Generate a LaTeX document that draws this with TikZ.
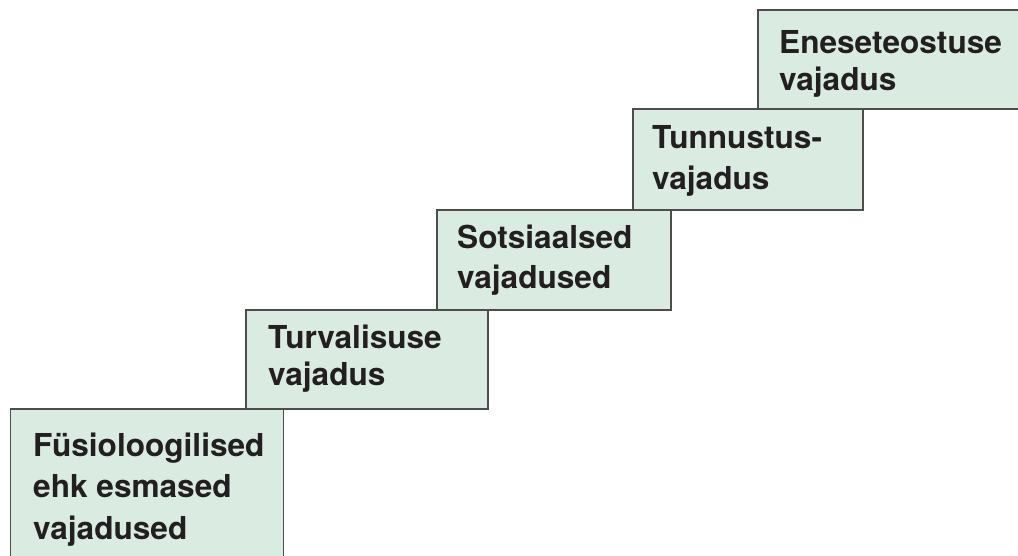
\documentclass[tikz,border=0pt]{standalone}
\usepackage{fontspec}
\setmainfont{TeX Gyre Heros}
\definecolor{boxfill}{RGB}{218,236,226}
\definecolor{boxline}{RGB}{77,77,77}
\definecolor{txt}{RGB}{35,31,32}
\begin{document}
\begin{tikzpicture}[x=1pt,y=-1pt,
  stepbox/.style={draw=boxline,fill=boxfill,line width=1.2pt,anchor=north west,inner sep=0pt,outer sep=0pt},
  lbl/.style={anchor=base west,inner sep=0pt,text=txt,font=\fontsize{31.6}{36}\selectfont\bfseries}]
\useasboundingbox (0,0) rectangle (1018,555);
% boxes
\node[stepbox,minimum width=273pt,minimum height=160pt] (b1) at (10.5,409) {};
\node[stepbox,minimum width=242pt,minimum height=99pt] (b2) at (246,310) {};
\node[stepbox,minimum width=234pt,minimum height=100pt] (b3) at (437,210) {};
\node[stepbox,minimum width=230pt,minimum height=101pt] (b4) at (633,109) {};
\node[stepbox,minimum width=270pt,minimum height=99pt] (b5) at (758,10) {};
% labels
\node[lbl] (t1a) at (33,456) {Füsioloogilised};
\node[lbl] (t1b) at (33,497) {ehk esmased};
\node[lbl] (t1c) at (33,539) {vajadused};
\node[lbl] (t2a) at (268,348) {Turvalisuse};
\node[lbl] (t2b) at (268,385) {vajadus};
\node[lbl] (t3a) at (457,248) {Sotsiaalsed};
\node[lbl] (t3b) at (457,288) {vajadused};
\node[lbl] (t4a) at (652,148) {Tunnustus-};
\node[lbl] (t4b) at (652,189) {vajadus};
\node[lbl] (t5a) at (779,53) {Eneseteostuse};
\node[lbl] (t5b) at (779,90) {vajadus};
\end{tikzpicture}
\end{document}
